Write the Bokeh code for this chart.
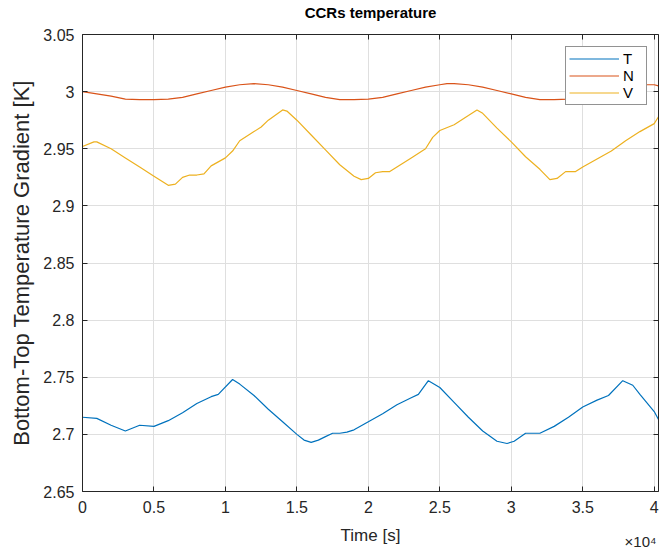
from bokeh.plotting import figure
from bokeh.models import (Range1d, FixedTicker, LinearAxis, Legend, LegendItem,
                          Title, CustomJSTickFormatter)
from bokeh.embed import file_html
from bokeh.resources import INLINE

# ---------------- data (time in seconds) ----------------
t_T = [0, 1000, 2000, 3000, 4000, 5000, 6000, 7000, 8000, 9000, 9500, 10500, 11000,
       12000, 13000, 14000, 15000, 15500, 16000, 16500, 17000, 17500, 18000, 18500,
       19000, 20000, 21000, 22000, 23000, 23500, 24200, 25000, 26000, 27000, 28000,
       29000, 29700, 30200, 31000, 32000, 33000, 34000, 35000, 36000, 36800, 37800,
       38500, 39000, 40000, 40300]
v_T = [2.715, 2.714, 2.708, 2.703, 2.708, 2.707, 2.712, 2.719, 2.727, 2.733, 2.735,
       2.748, 2.744, 2.734, 2.722, 2.711, 2.700, 2.695, 2.693, 2.695, 2.698, 2.701,
       2.701, 2.702, 2.704, 2.711, 2.718, 2.726, 2.732, 2.735, 2.747, 2.741, 2.728,
       2.715, 2.703, 2.694, 2.692, 2.694, 2.701, 2.701, 2.707, 2.715, 2.724, 2.730,
       2.734, 2.747, 2.743, 2.735, 2.720, 2.713]

t_N = [0, 1000, 2000, 3000, 4000, 5000, 6000, 7000, 8000, 9000, 10000, 11000, 12000,
       13000, 14000, 15000, 16000, 17000, 18000, 19000, 20000, 21000, 22000, 23000,
       24000, 25000, 25500, 26000, 27000, 28000, 29000, 30000, 31000, 32000, 33000,
       34000, 35000, 36000, 37000, 38000, 39000, 40000, 40300]
v_N = [3.000, 2.998, 2.996, 2.9935, 2.993, 2.993, 2.9935, 2.995, 2.998, 3.001, 3.004,
       3.006, 3.007, 3.006, 3.004, 3.001, 2.998, 2.995, 2.993, 2.993, 2.9935, 2.995,
       2.998, 3.001, 3.004, 3.006, 3.007, 3.007, 3.006, 3.004, 3.001, 2.998, 2.995,
       2.993, 2.993, 2.9935, 2.995, 2.998, 3.001, 3.004, 3.006, 3.006, 3.005]

t_V = [0, 800, 1000, 2000, 3000, 4000, 5000, 6000, 6500, 7000, 7500, 8000, 8500, 9000,
       10000, 10500, 11000, 12000, 12500, 13000, 14000, 14300, 15000, 16000, 17000,
       18000, 19000, 19500, 20000, 20500, 21000, 21500, 22000, 23000, 24000, 24500,
       25000, 26000, 27000, 27600, 28000, 29000, 30000, 31000, 32000, 32700, 33200,
       33800, 34500, 35000, 36000, 37000, 38000, 39000, 40000, 40300]
v_V = [2.952, 2.956, 2.956, 2.950, 2.942, 2.934, 2.926, 2.918, 2.919, 2.925, 2.927,
       2.927, 2.928, 2.935, 2.942, 2.948, 2.957, 2.965, 2.969, 2.975, 2.984, 2.983,
       2.975, 2.962, 2.949, 2.936, 2.926, 2.923, 2.924, 2.929, 2.930, 2.930, 2.934,
       2.942, 2.950, 2.960, 2.966, 2.971, 2.979, 2.984, 2.981, 2.968, 2.956, 2.943,
       2.932, 2.923, 2.924, 2.930, 2.930, 2.934, 2.941, 2.948, 2.957, 2.965, 2.972,
       2.978]

x_ticks = [0, 5000, 10000, 15000, 20000, 25000, 30000, 35000, 40000]
x_tick_labels = ["0", "0.5", "1", "1.5", "2", "2.5", "3", "3.5", "4"]
y_ticks = [2.65, 2.7, 2.75, 2.8, 2.85, 2.9, 2.95, 3.0, 3.05]
y_tick_labels = ["2.65", "2.7", "2.75", "2.8", "2.85", "2.9", "2.95", "3", "3.05"]

series_names = ["T", "N", "V"]
colors = ["#0072BD", "#D95319", "#EDB120"]

FONT = "Liberation Sans"
AX = "#262626"
GRID = "#dfdfdf"

p = figure(width=663, height=552, output_backend="svg", toolbar_location=None,
           x_range=Range1d(0, 40300), y_range=Range1d(2.65, 3.05),
           min_border_left=82, min_border_right=5, min_border_top=32,
           min_border_bottom=61)
p.background_fill_color = "white"
p.border_fill_color = "white"
p.outline_line_color = None
p.title.text = ""

# main axes
for ax in (p.xaxis[0], p.yaxis[0]):
    ax.axis_line_color = AX
    ax.major_tick_line_color = AX
    ax.major_tick_in = 5
    ax.major_tick_out = 0
    ax.minor_tick_line_color = None
    ax.major_label_text_font = FONT
    ax.major_label_text_font_size = "16px"
    ax.major_label_text_color = AX
    ax.axis_label_text_font = FONT
    ax.axis_label_text_font_style = "normal"
    ax.axis_label_text_color = AX

p.xaxis.ticker = FixedTicker(ticks=x_ticks)
p.xaxis.major_label_overrides = dict(zip(x_ticks, x_tick_labels))
p.xaxis.axis_label = "Time [s]"
p.xaxis.axis_label_text_font_size = "17px"
p.xaxis.major_label_standoff = 9
p.xaxis.axis_label_standoff = 10

p.yaxis.ticker = FixedTicker(ticks=y_ticks)
p.yaxis.major_label_overrides = dict(zip(y_ticks, y_tick_labels))
p.yaxis.axis_label = "Bottom-Top Temperature Gradient [K]"
p.yaxis.axis_label_text_font_size = "22px"
p.yaxis.major_label_standoff = 8
p.yaxis.axis_label_standoff = 6

blank = CustomJSTickFormatter(code="return ''")
top = LinearAxis(ticker=FixedTicker(ticks=x_ticks), formatter=blank)
right = LinearAxis(ticker=FixedTicker(ticks=y_ticks), formatter=blank)
for ax in (top, right):
    ax.axis_line_color = AX
    ax.major_tick_line_color = AX
    ax.major_tick_in = 5
    ax.major_tick_out = 0
    ax.minor_tick_line_color = None
    ax.major_label_standoff = 0
    ax.major_label_text_font_size = "1px"
# chart title carried by the top axis label
top.axis_label = "CCRs temperature"
top.axis_label_text_font = FONT
top.axis_label_text_font_size = "15px"
top.axis_label_text_font_style = "bold"
top.axis_label_text_color = "#000000"
top.axis_label_standoff = 14
p.add_layout(top, "above")
p.add_layout(right, "right")

p.xgrid.ticker = FixedTicker(ticks=x_ticks)
p.ygrid.ticker = FixedTicker(ticks=y_ticks)
p.grid.grid_line_color = GRID
p.grid.grid_line_width = 1

rT = p.line(t_T, v_T, line_color=colors[0], line_width=1.2)
rN = p.line(t_N, v_N, line_color=colors[1], line_width=1.2)
rV = p.line(t_V, v_V, line_color=colors[2], line_width=1.2)

legend = Legend(items=[LegendItem(label=n, renderers=[r])
                       for n, r in zip(series_names, [rT, rN, rV])],
                location=(483, 386))
legend.border_line_color = "#262626"
legend.border_line_width = 1
legend.background_fill_alpha = 1
legend.label_text_font = FONT
legend.label_text_font_size = "15px"
legend.label_text_color = "#000000"
legend.glyph_width = 50
legend.glyph_height = 17
legend.label_height = 17
legend.label_standoff = 4
legend.spacing = 0
legend.padding = 3
legend.margin = 0
p.add_layout(legend, "center")

# x10^4 exponent note under the right end of the x axis
exponent = Title(text="\u00d710\u2074", align="right", vertical_align="top",
                 text_font=FONT, text_font_size="15px", text_font_style="normal",
                 text_color=AX, standoff=-29, offset=2)
p.add_layout(exponent, "below")

open("out.html", "w").write(file_html(p, INLINE))
